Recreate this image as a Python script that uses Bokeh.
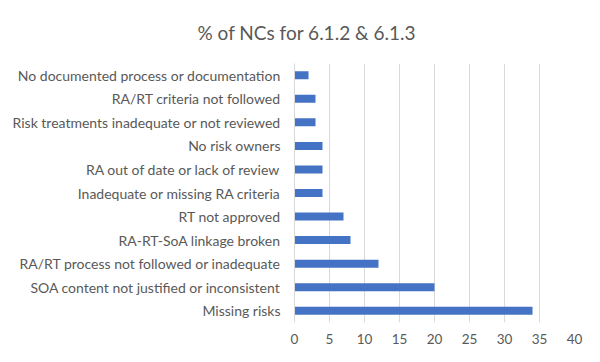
from bokeh.plotting import figure
from bokeh.models import FactorRange, FixedTicker
from bokeh.embed import file_html
from bokeh.resources import INLINE

# Data (top-to-bottom as shown in the chart)
categories = [
    "No documented process or documentation",
    "RA/RT criteria not followed",
    "Risk treatments inadequate or not reviewed",
    "No risk owners",
    "RA out of date or lack of review",
    "Inadequate or missing RA criteria",
    "RT not approved",
    "RA-RT-SoA linkage broken",
    "RA/RT process not followed or inadequate",
    "SOA content not justified or inconsistent",
    "Missing risks",
]
values = [2, 3, 3, 4, 4, 4, 7, 8, 12, 20, 34]
x_ticks = [0, 5, 10, 15, 20, 25, 30, 35, 40]
title_text = "% of NCs for 6.1.2 & 6.1.3"

FONT = "Lato"
GREY = "#595959"
BAR = "#4472C4"
GRID = "#d9d9d9"

cats_bottom_up = list(reversed(categories))
vals_bottom_up = list(reversed(values))

p = figure(
    width=584, height=346,
    y_range=FactorRange(factors=cats_bottom_up, range_padding=0),
    x_range=(x_ticks[0], x_ticks[-1]),
    output_backend="svg", toolbar_location=None,
    min_border_left=294, min_border_right=10,
    min_border_top=62, min_border_bottom=23,
    title=title_text,
)
p.outline_line_color = None
p.background_fill_color = "white"
p.border_fill_color = "white"

p.title.align = "left"
p.title.offset = -97
p.title.standoff = 38
p.title.vertical_align = "middle"
p.title.text_font = FONT
p.title.text_font_size = "19px"
p.title.text_font_style = "normal"
p.title.text_color = GREY

p.hbar(y=cats_bottom_up, right=vals_bottom_up, left=0, height=0.34,
       fill_color=BAR, line_color=None)

# x axis
p.xaxis.ticker = FixedTicker(ticks=x_ticks)
p.xaxis.axis_line_color = None
p.xaxis.major_tick_line_color = None
p.xaxis.minor_tick_line_color = None
p.xaxis.major_tick_out = 0
p.xaxis.major_tick_in = 0
p.xaxis.major_label_standoff = 11
p.xaxis.major_label_text_font = FONT
p.xaxis.major_label_text_font_size = "13.5px"
p.xaxis.major_label_text_color = GREY

# y axis
p.yaxis.axis_line_color = GRID
p.yaxis.axis_line_width = 1
p.yaxis.major_tick_line_color = None
p.yaxis.minor_tick_line_color = None
p.yaxis.major_tick_out = 0
p.yaxis.major_tick_in = 0
p.yaxis.major_label_standoff = 14
p.yaxis.major_label_text_font = FONT
p.yaxis.major_label_text_font_size = "14px"
p.yaxis.major_label_text_color = GREY

p.xgrid.grid_line_color = GRID
p.xgrid.grid_line_width = 1
p.ygrid.grid_line_color = None

open("out.html", "w").write(file_html(p, INLINE))
